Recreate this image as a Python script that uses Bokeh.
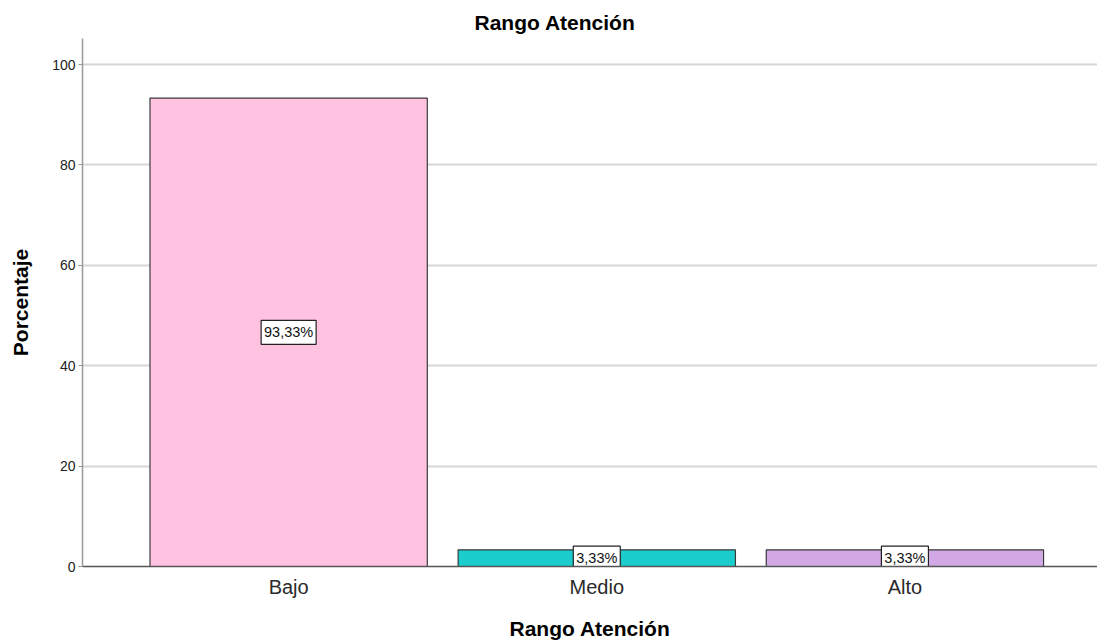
from bokeh.plotting import figure
from bokeh.models import ColumnDataSource, Range1d, FixedTicker, Title
from bokeh.core.properties import value
from bokeh.embed import file_html
from bokeh.resources import INLINE

# ---- data ----
categorias = ["Bajo", "Medio", "Alto"]
porcentajes = [93.33, 3.33, 3.33]
colores = ["#FFC2E1", "#1CCDCD", "#D1A8E3"]
y_ticks = [0, 20, 40, 60, 80, 100]

xs = list(range(len(categorias)))
etiquetas = [f"{v:.2f}%".replace(".", ",") for v in porcentajes]
mitad = [v / 2 for v in porcentajes]
ancho_caja = [8 * len(s) + 7 for s in etiquetas]

src = ColumnDataSource(dict(x=xs, top=porcentajes, color=colores,
                            label=etiquetas, mid=mitad, bw=ancho_caja))

FONT = "Liberation Sans"

p = figure(width=1097, height=642, output_backend="svg", toolbar_location=None,
           x_range=Range1d(-0.669, 2.625), y_range=Range1d(0, 105.2),
           min_border_left=82, min_border_right=0, min_border_top=38,
           min_border_bottom=76)
p.title = None
t = Title(text="Rango Atención", align="left", text_font=FONT,
          text_font_size="21px", text_font_style="bold", text_color="#000000",
          offset=392, standoff=9)
p.add_layout(t, "above")

p.outline_line_color = None
p.background_fill_color = "white"

p.vbar(x="x", top="top", width=0.9, bottom=0, source=src,
       fill_color="color", line_color="#3a3a3a", line_width=1.2)

# value label boxes
p.rect(x="x", y="mid", width="bw", height=24, width_units="screen",
       height_units="screen", source=src, fill_color="white",
       line_color="#222222", line_width=1.2)
p.text(x="x", y="mid", text="label", source=src, text_align="center",
       text_baseline="middle", text_font=value(FONT), text_font_size="14.5px",
       text_color="#111111")

# axes
p.xaxis.ticker = FixedTicker(ticks=xs)
p.xaxis.major_label_overrides = {i: c for i, c in enumerate(categorias)}
p.xaxis.major_label_text_font = FONT
p.xaxis.major_label_text_font_size = "20px"
p.xaxis.major_label_text_color = "#2a2a2a"
p.xaxis.major_tick_line_color = None
p.xaxis.major_tick_out = 0
p.xaxis.major_tick_in = 0
p.xaxis.minor_tick_line_color = None
p.xaxis.axis_line_color = "#555555"
p.xaxis.axis_line_width = 1.3
p.xaxis.axis_label = "Rango Atención"
p.xaxis.axis_label_text_font = FONT
p.xaxis.axis_label_text_font_size = "21px"
p.xaxis.axis_label_text_font_style = "bold"
p.xaxis.axis_label_text_color = "#000000"
p.xaxis.axis_label_standoff = 16
p.xaxis.major_label_standoff = 9

p.yaxis.ticker = FixedTicker(ticks=y_ticks)
p.yaxis.major_label_text_font = FONT
p.yaxis.major_label_text_font_size = "14px"
p.yaxis.major_label_text_color = "#222222"
p.yaxis.major_tick_line_color = "#999999"
p.yaxis.major_tick_out = 4
p.yaxis.major_tick_in = 0
p.yaxis.minor_tick_line_color = None
p.yaxis.axis_line_color = "#999999"
p.yaxis.axis_line_width = 1.5
p.yaxis.axis_label = "Porcentaje"
p.yaxis.axis_label_text_font = FONT
p.yaxis.axis_label_text_font_size = "21px"
p.yaxis.axis_label_text_font_style = "bold"
p.yaxis.axis_label_text_color = "#000000"
p.yaxis.axis_label_standoff = 17
p.yaxis.major_label_standoff = 3

p.xgrid.grid_line_color = None
p.ygrid.grid_line_color = "#D6D6D6"
p.ygrid.grid_line_width = 2

open("out.html", "w").write(file_html(p, INLINE))
